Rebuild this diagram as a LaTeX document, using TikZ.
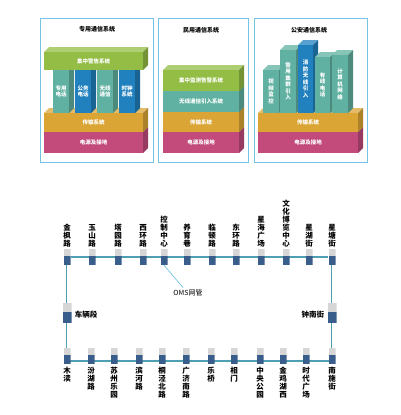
\documentclass[tikz,border=0pt]{standalone}
\usepackage{fontspec}
\setmainfont{Noto Sans CJK SC}
\usetikzlibrary{positioning,calc}

\definecolor{frame}{HTML}{74C2E4}
\definecolor{leaf}{HTML}{93BD44}
\definecolor{sea}{HTML}{60B1A1}
\definecolor{ocean}{HTML}{2180BE}
\definecolor{amber}{HTML}{DBA535}
\definecolor{rose}{HTML}{C24B7C}
\definecolor{devblue}{HTML}{3A5E8C}
\definecolor{devgrey}{HTML}{D6D6D6}
\definecolor{wire}{HTML}{4E9FB2}

\pgfdeclarelayer{bg}
\pgfsetlayers{bg,main}

\tikzset{
    blktext/.style = {text=white, font=\fontsize{5.5}{6.5}\selectfont\bfseries, align=center, inner sep=0pt},
    title/.style = {font=\fontsize{6}{7}\selectfont\bfseries, inner sep=0pt},
    stn/.style = {font=\fontsize{7.5}{8.1}\selectfont\bfseries, align=center, inner sep=0pt},
    dev/.style = {minimum width=7pt, minimum height=16pt, inner sep=0pt,
        path picture={
            \fill[devgrey] (path picture bounding box.north west) rectangle
                ($(path picture bounding box.north east)!0.45!(path picture bounding box.south east)$);
            \fill[devblue] ($(path picture bounding box.north west)!0.45!(path picture bounding box.south west)$)
                rectangle (path picture bounding box.south east);
        }},
    bigdev/.style = {dev, minimum width=9pt, minimum height=20pt},
}

% 3D block: name, left, top, right, bottom, colour, text
\newcommand\blk[7]{%
    \fill[#6!75!white] (#2,#3) -- ++(5,-5) -- (#4+5,#3-5) -- (#4,#3) -- cycle;
    \fill[#6!78!black] (#4,#3) -- ++(5,-5) -- (#4+5,#5-5) -- (#4,#5) -- cycle;
    \fill[#6] (#2,#3) rectangle (#4,#5);
    \node[blktext] (#1) at ({(#2+#4)/2},{(#3+#5)/2}) {#7};
}

\begin{document}
\begin{tikzpicture}[x=1pt, y=-1pt]
    \useasboundingbox (0,0) rectangle (401,415);

    % panels
    \draw[frame, line width=0.8pt] (40,18) rectangle (153,162);
    \draw[frame, line width=0.8pt] (158,18) rectangle (248,162);
    \draw[frame, line width=0.8pt] (254,18) rectangle (367,162);

    \node[title] (ttl1) at (97,29) {专用通信系统};
    \node[title] (ttl2) at (201,30) {民用通信系统};
    \node[title] (ttl3) at (309,30) {公安通信系统};

    % 专用
    \blk{a1}{44}{132}{143}{153}{rose}{电源及接地}
    \blk{a2}{44}{113}{143}{132}{amber}{传输系统}
    \blk{a3}{53}{70}{69}{113}{sea}{专用\\电话}
    \blk{a4}{75}{70}{91}{113}{ocean}{公务\\电话}
    \blk{a5}{97}{70}{113}{113}{sea}{无线\\通信}
    \blk{a6}{119}{70}{135}{113}{ocean}{时钟\\系统}
    \blk{a7}{44}{52}{143}{70}{leaf}{集中警告系统}

    % 民用
    \blk{b1}{163}{132}{239}{153}{rose}{电源及接地}
    \blk{b2}{163}{112}{239}{132}{amber}{传输系统}
    \blk{b3}{163}{91}{239}{112}{sea}{无线通信引入系统}
    \blk{b4}{163}{70}{239}{91}{leaf}{集中监测告警系统}

    % 公安
    \blk{c1}{258}{132}{358}{153}{rose}{电源及接地}
    \blk{c2}{258}{113}{358}{132}{amber}{传输系统}
    \blk{c3}{263}{70}{279}{113}{sea}{视\\频\\监\\控}
    \blk{c4}{280}{50}{296}{113}{sea}{警\\用\\集\\群\\引\\入}
    \blk{c5}{298}{45}{313}{113}{ocean}{消\\防\\无\\线\\引\\入}
    \blk{c6}{315}{57}{330}{113}{sea}{有\\线\\电\\话}
    \blk{c7}{332}{55}{348}{113}{sea}{计\\算\\机\\网\\络}

    % stations
    \foreach \x/\t [count=\i] in {67/金\\枫\\路, 92/玉\\山\\路, 118/塔\\园\\路, 143/西\\环\\路,
        164/控\\制\\中\\心, 187/养\\育\\巷, 212/临\\顿\\路, 236/东\\环\\路,
        261/星\\海\\广\\场, 286/文\\化\\博\\览\\中\\心, 309/星\\湖\\街, 332/星\\塘\\街}
    {
        \node[dev] (t\i) at (\x,257) {};
        \node[stn, above=1.5pt of t\i] (tl\i) {\t};
    }
    \foreach \x/\t [count=\i] in {67/木\\渎, 91/汾\\湖\\路, 114/苏\\州\\乐\\园, 139/滨\\河\\路,
        162/桐\\泾\\北\\路, 186/广\\济\\南\\路, 211/乐\\桥, 234/相\\门,
        260/中\\央\\公\\园, 283/金\\鸡\\湖\\西, 306/时\\代\\广\\场, 332/南\\施\\街}
    {
        \node[dev] (b\i) at (\x,356) {};
        \node[stn, below=2.5pt of b\i] (bl\i) {\t};
    }

    \node[bigdev] (cl) at (67,313) {};
    \node[stn, right=3pt of cl, yshift=-2pt] (cll) {车辆段};
    \node[bigdev] (cr) at (332,313) {};
    \node[stn, left=3pt of cr, yshift=-2pt] (crl) {钟南街};

    \node[font=\fontsize{7}{8}\selectfont, inner sep=0pt] (oms) at (188,293) {OMS网管};

    % wiring
    \begin{pgfonlayer}{bg}
        \draw[wire, line width=1.3pt] (t1) -- (t12);
        \draw[wire, line width=1.3pt] ([yshift=-5pt]b1.center) -- ([yshift=-5pt]b12.center);
        \draw[wire, double=white, double distance=1pt, line width=0.6pt] (t1) -- (b1);
        \draw[wire, double=white, double distance=1pt, line width=0.6pt] (t12) -- (b12);
    \end{pgfonlayer}
    \draw[frame, line width=0.7pt] (t5.south) -- ([xshift=-5pt, yshift=2pt]oms.north);
\end{tikzpicture}
\end{document}
